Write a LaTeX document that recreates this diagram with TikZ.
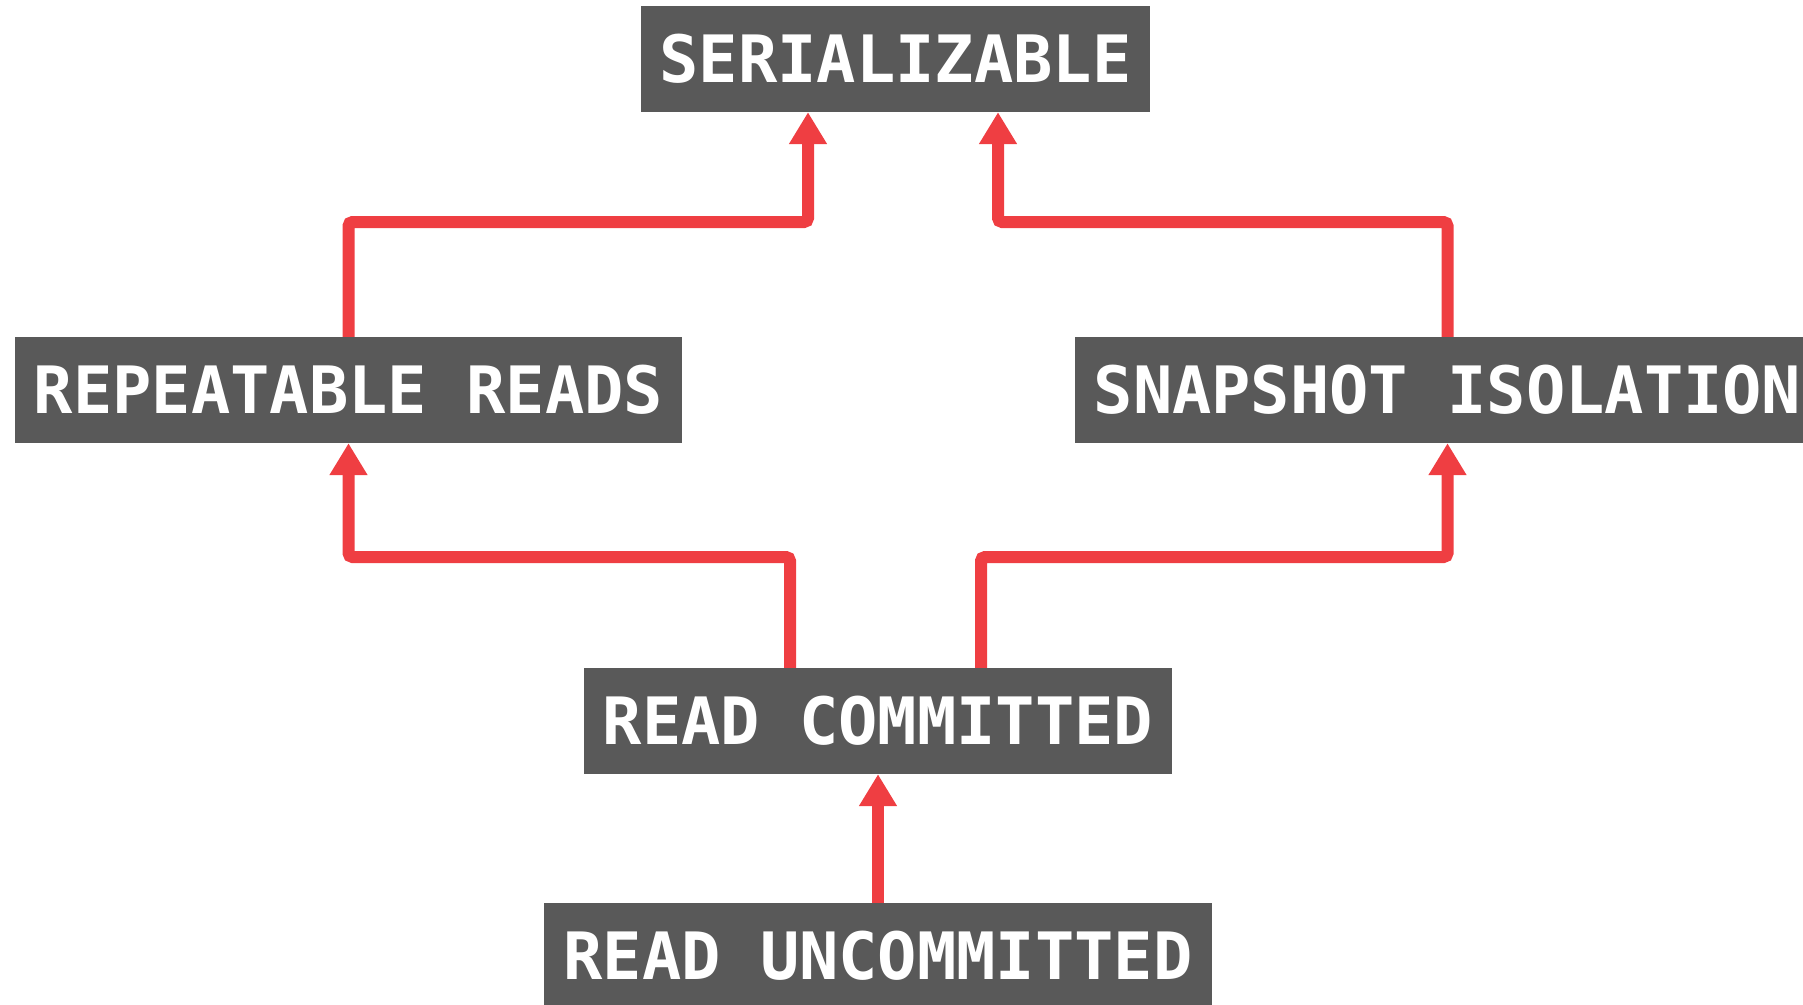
\documentclass[tikz,border=0pt]{standalone}
\usepackage{fontspec}
\setmonofont{DejaVu Sans Mono}
\usetikzlibrary{arrows.meta}
\definecolor{boxgray}{RGB}{89,89,89}
\definecolor{arrred}{RGB}{239,62,66}
\begin{document}
\begin{tikzpicture}[x=1pt,y=-1pt,
  level/.style={fill=boxgray, text=white, inner xsep=19pt, inner ysep=0pt,
    minimum height=106pt, font=\ttfamily\bfseries\fontsize{65.3}{70}\selectfont},
  link/.style={draw=arrred, line width=12pt, rounded corners=4pt,
    -{Triangle[width=36pt,length=32pt]}}]
\useasboundingbox (0,0) rectangle (1803,1004);
\node[level] (ser) at (895.5,59) {SERIALIZABLE};
\node[level] (rr) at (348.5,390) {REPEATABLE READS};
\node[level] (si) at (1447.5,390) {SNAPSHOT ISOLATION};
\node[level] (rc) at (878,721) {READ COMMITTED};
\node[level] (ru) at (878,956) {READ UNCOMMITTED};
\coordinate (j1) at (808,222);
\coordinate (j2) at (998,222);
\coordinate (j3) at (790,557);
\coordinate (j4) at (981,557);
\draw[link] (rr.north) |- (j1) -- (j1 |- ser.south);
\draw[link] (si.north) |- (j2) -- (j2 |- ser.south);
\draw[link] (j3 |- rc.north) -- (j3) -| (rr.south);
\draw[link] (j4 |- rc.north) -- (j4) -| (si.south);
\draw[link] (rc.south |- ru.north) -- (rc.south);
\end{tikzpicture}
\end{document}
